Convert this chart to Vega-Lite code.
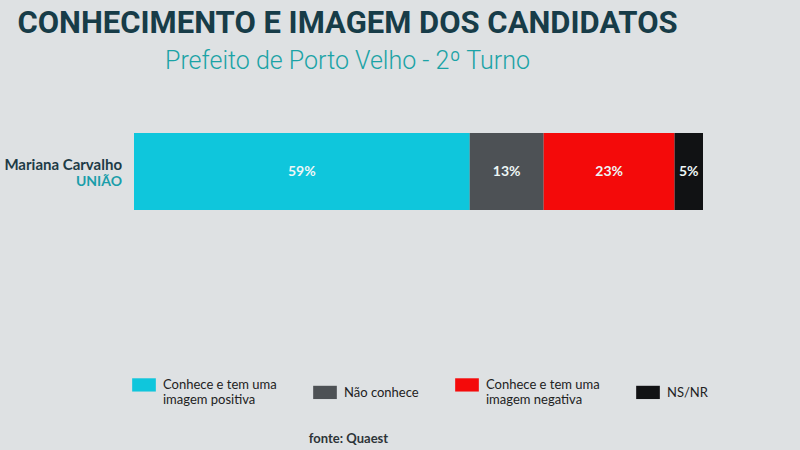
{
  "$schema": "https://vega.github.io/schema/vega-lite/v6.json",
  "width": 569,
  "height": 77,
  "autosize": "none",
  "padding": {"left": 134, "top": 133, "right": 97, "bottom": 240},
  "background": "#dee1e3",
  "title": {
    "text": "CONHECIMENTO E IMAGEM DOS CANDIDATOS",
    "subtitle": "Prefeito de Porto Velho - 2º Turno",
    "anchor": "middle",
    "frame": "group",
    "dx": -71,
    "offset": 58,
    "font": "Roboto",
    "fontSize": 31,
    "fontWeight": "bold",
    "color": "#173c48",
    "limit": 780,
    "subtitleFont": "Roboto",
    "subtitleFontSize": 25,
    "subtitleFontWeight": 300,
    "subtitleColor": "#1ba3a6",
    "subtitlePadding": 9
  },
  "config": {"view": {"stroke": null}},
  "data": {
    "values": [
      {"candidato": "Mariana Carvalho", "partido": "UNIÃO", "categoria": "Conhece e tem uma|imagem positiva", "ordem": 1, "valor": 59},
      {"candidato": "Mariana Carvalho", "partido": "UNIÃO", "categoria": "Não conhece", "ordem": 2, "valor": 13},
      {"candidato": "Mariana Carvalho", "partido": "UNIÃO", "categoria": "Conhece e tem uma|imagem negativa", "ordem": 3, "valor": 23},
      {"candidato": "Mariana Carvalho", "partido": "UNIÃO", "categoria": "NS/NR", "ordem": 4, "valor": 5}
    ]
  },
  "transform": [
    {"stack": "valor", "groupby": ["candidato"], "sort": [{"field": "ordem"}], "as": ["x0", "x1"]},
    {"calculate": "(datum.x0 + datum.x1) / 2", "as": "xm"},
    {"calculate": "datum.valor + '%'", "as": "rotulo"}
  ],
  "encoding": {
    "y": {"field": "candidato", "type": "nominal", "axis": null, "scale": {"paddingInner": 0, "paddingOuter": 0}}
  },
  "layer": [
    {
      "mark": {"type": "bar"},
      "encoding": {
        "x": {"field": "x0", "type": "quantitative", "scale": {"domain": [0, 100], "nice": false},
          "axis": {"domain": false, "ticks": false, "labels": false, "grid": false,
            "title": "fonte: Quaest", "titleX": 214, "titleY": 222, "titleAnchor": "middle",
            "titleFont": "Lato", "titleFontSize": 13, "titleFontWeight": "bold", "titleColor": "#2d3438"}},
        "x2": {"field": "x1"},
        "color": {
          "field": "categoria", "type": "nominal",
          "scale": {
            "domain": ["Conhece e tem uma|imagem positiva", "Não conhece", "Conhece e tem uma|imagem negativa", "NS/NR"],
            "range": ["#0fc6dc", "#4d5155", "#f40a0a", "#111214"]
          },
          "legend": {
            "title": null, "orient": "none", "legendX": -2, "legendY": 234,
            "direction": "horizontal", "columns": 4, "gridAlign": "each", "columnPadding": 36,
            "labelExpr": "split(datum.label, '|')",
            "labelFont": "Lato", "labelFontSize": 13, "labelColor": "#222",
            "labelBaseline": "top", "labelOffset": 7, "labelLimit": 200,
            "symbolType": "M-1,-0.06H1V1.06H-1Z", "symbolSize": 560, "symbolStrokeWidth": 0, "symbolOpacity": 1
          }
        },
        "order": {"field": "ordem"}
      }
    },
    {
      "mark": {"type": "text", "font": "Lato", "fontSize": 14, "fontWeight": "bold", "color": "#eef6f6"},
      "encoding": {
        "x": {"field": "xm", "type": "quantitative"},
        "text": {"field": "rotulo"},
        "detail": {"field": "ordem"}
      }
    },
    {
      "transform": [{"filter": "datum.ordem == 1"}],
      "mark": {"type": "text", "font": "Lato", "fontSize": 15, "fontWeight": "bold", "color": "#1d3b46", "align": "right", "dx": -12, "dy": -7},
      "encoding": {
        "x": {"datum": 0, "type": "quantitative"},
        "text": {"field": "candidato"}
      }
    },
    {
      "transform": [{"filter": "datum.ordem == 1"}],
      "mark": {"type": "text", "font": "Lato", "fontSize": 14, "fontWeight": "bold", "color": "#1a9eaa", "align": "right", "dx": -12, "dy": 10},
      "encoding": {
        "x": {"datum": 0, "type": "quantitative"},
        "text": {"field": "partido"}
      }
    }
  ]
}
